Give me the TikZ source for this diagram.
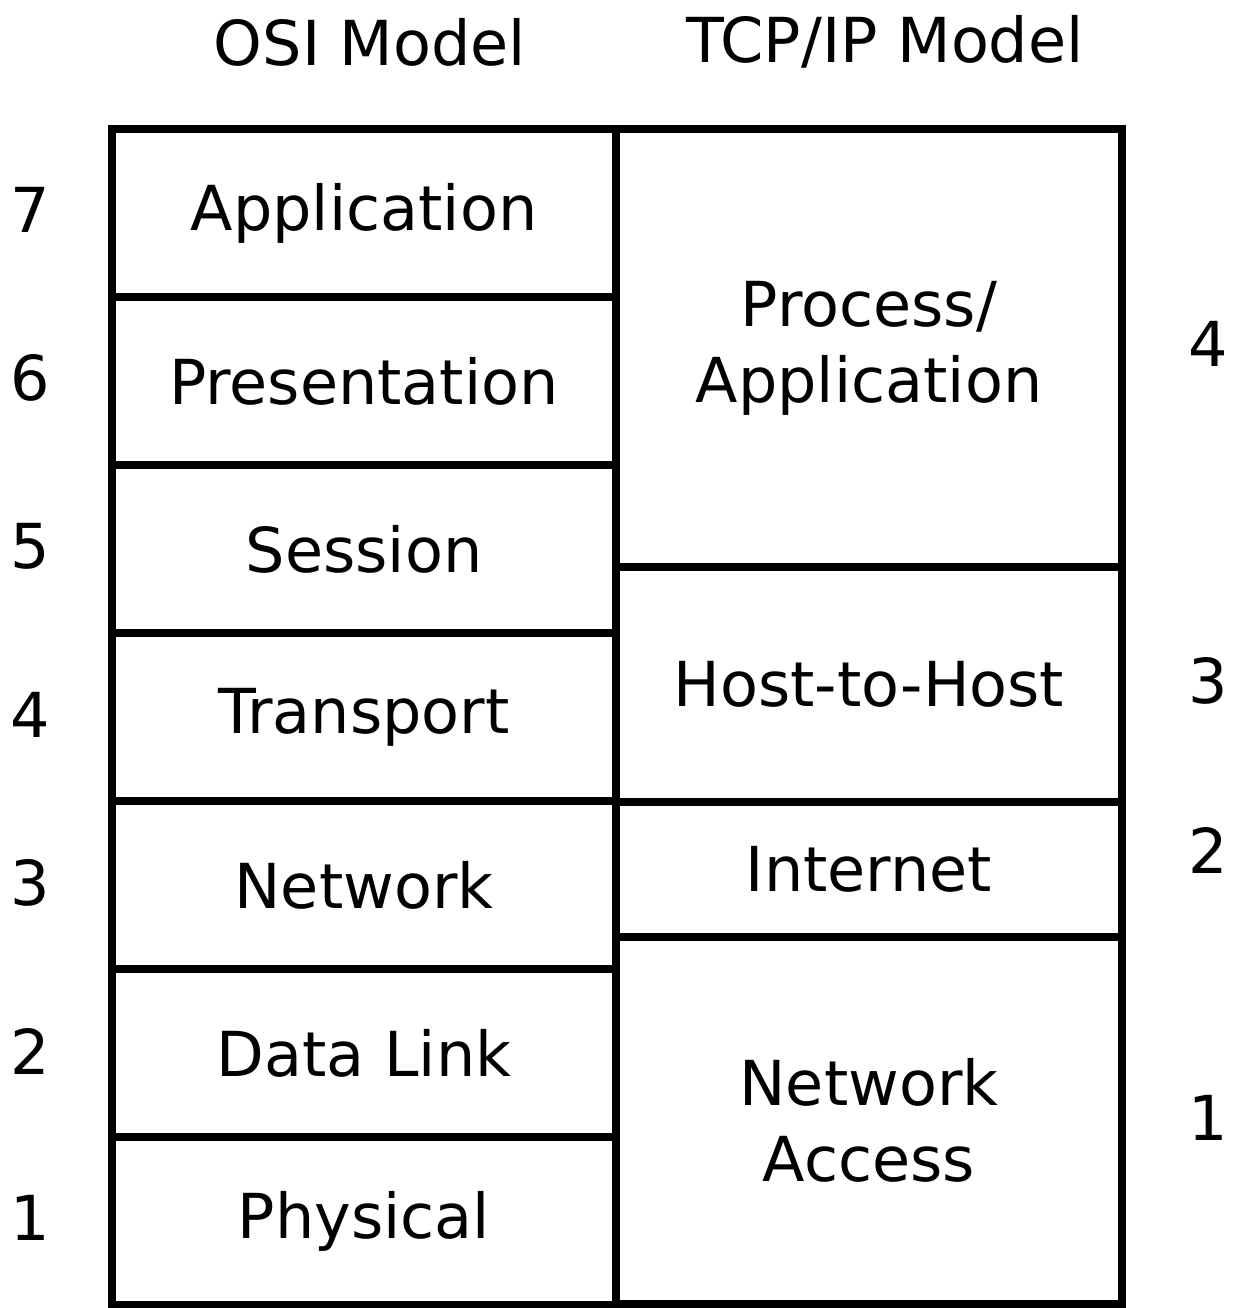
\documentclass[tikz,border=0pt]{standalone}
\usepackage{fontspec}
\setmainfont{DejaVu Sans}
\begin{document}
\begin{tikzpicture}[x=1pt,y=-1pt,
  txt/.style={font=\fontsize{62}{76}\selectfont, inner sep=0pt, align=center},
  cell/.style={txt, draw, line width=8pt, minimum width=#1, inner sep=0pt},
  osi/.style={cell=504pt, minimum height=168pt},
  tcp/.style={cell=506pt}]
\useasboundingbox (0,0) rectangle (1237,1308);
% headers
\node[txt] (hosi) at (370,42) {OSI Model};
\node[txt] (htcp) at (885,42) {TCP/IP Model};
% OSI cells
\node[osi] (l7) at (364,213) {Application};
\node[osi] (l6) at (364,381) {Presentation};
\node[osi] (l5) at (364,549) {Session};
\node[osi] (l4) at (364,717) {Transport};
\node[osi] (l3) at (364,885) {Network};
\node[osi] (l2) at (364,1053) {Data Link};
\node[osi] (l1) at (364,1221) {Physical};
% TCP/IP cells
\node[tcp, minimum height=438pt] (t4) at (869,348) {Process/\\Application};
\node[tcp, minimum height=235pt] (t3) at (869,684.5) {Host-to-Host};
\node[tcp, minimum height=135pt] (t2) at (869,869.5) {Internet};
\node[tcp, minimum height=367pt] (t1) at (869,1120.5) {Network\\Access};
% left numbers
\node[txt] (n7) at (30,210) {7};
\node[txt] (n6) at (30,378) {6};
\node[txt] (n5) at (30,546) {5};
\node[txt] (n4) at (30,715) {4};
\node[txt] (n3) at (30,883) {3};
\node[txt] (n2) at (30,1051) {2};
\node[txt] (n1) at (30,1218) {1};
% right numbers
\node[txt] (m4) at (1208,344) {4};
\node[txt] (m3) at (1208,681) {3};
\node[txt] (m2) at (1208,850) {2};
\node[txt] (m1) at (1208,1118) {1};
\end{tikzpicture}
\end{document}
